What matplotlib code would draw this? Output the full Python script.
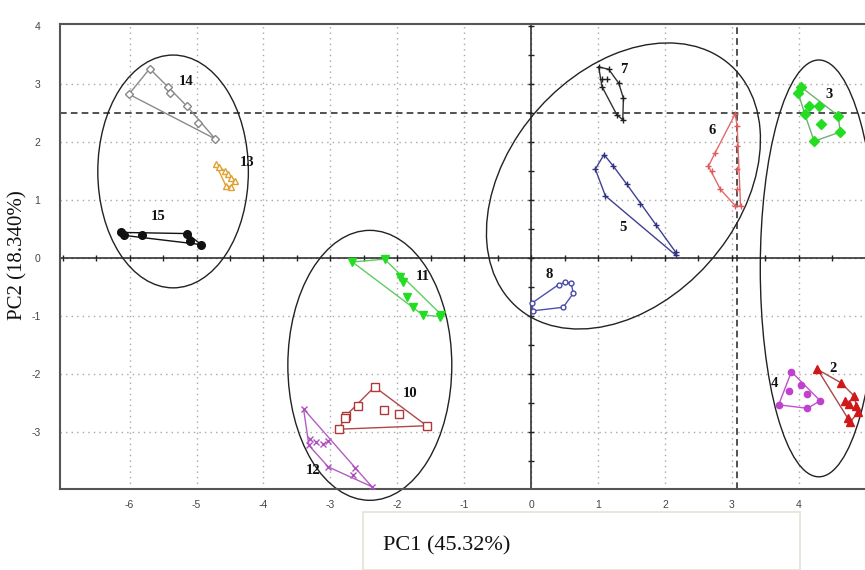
import numpy as np
import matplotlib
matplotlib.use('Agg')
import matplotlib.pyplot as plt
from matplotlib.patches import Ellipse, Rectangle

### DATA: PCA SCORES ###

g2_x = [4.28, 4.63, 4.83, 4.69, 4.75, 4.85, 4.88, 4.73, 4.77]
g2_y = [-1.92, -2.15, -2.38, -2.46, -2.52, -2.55, -2.66, -2.75, -2.83]
g3_x = [4.04, 3.99, 4.15, 4.30, 4.09, 4.59, 4.33, 4.62, 4.23]
g3_y = [2.94, 2.85, 2.61, 2.61, 2.48, 2.45, 2.31, 2.17, 2.01]
g4_x = [3.89, 4.04, 3.85, 4.12, 4.32, 3.70, 4.13]
g4_y = [-1.96, -2.18, -2.30, -2.34, -2.46, -2.53, -2.59]
g5_x = [1.09, 0.96, 1.23, 1.11, 1.43, 1.63, 1.86, 2.16, 2.16]
g5_y = [1.78, 1.53, 1.58, 1.07, 1.27, 0.93, 0.56, 0.10, 0.05]
g6_x = [3.05, 2.75, 2.65, 2.70, 2.83, 3.05, 3.13, 3.08, 3.08, 3.08, 3.08]
g6_y = [2.48, 1.81, 1.58, 1.50, 1.18, 0.90, 0.89, 1.18, 1.53, 1.93, 2.27]
g7_x = [1.01, 1.16, 1.06, 1.14, 1.06, 1.31, 1.38, 1.28, 1.37]
g7_y = [3.29, 3.25, 3.09, 3.09, 2.95, 3.01, 2.75, 2.47, 2.38]
g8_x = [0.01, 0.03, 0.41, 0.51, 0.60, 0.63, 0.48]
g8_y = [-0.78, -0.91, -0.46, -0.42, -0.44, -0.61, -0.85]
g10_x = [-2.34, -2.59, -2.77, -2.78, -2.87, -2.20, -1.97, -1.56]
g10_y = [-2.22, -2.55, -2.72, -2.75, -2.95, -2.62, -2.69, -2.89]
g11_x = [-2.67, -2.19, -1.96, -1.91, -1.86, -1.77, -1.62, -1.36, -1.34]
g11_y = [-0.07, -0.02, -0.32, -0.41, -0.67, -0.85, -0.98, -1.01, -0.98]
g12_x = [-3.40, -3.31, -3.32, -3.21, -3.11, -3.03, -3.03, -2.63, -2.66, -2.38]
g12_y = [-2.60, -3.12, -3.23, -3.17, -3.20, -3.15, -3.60, -3.62, -3.74, -3.94]
g13_x = [-4.71, -4.66, -4.58, -4.53, -4.48, -4.43, -4.56, -4.48]
g13_y = [1.61, 1.56, 1.50, 1.44, 1.38, 1.33, 1.24, 1.23]
g14_x = [-5.70, -6.01, -5.43, -5.39, -5.14, -4.98, -4.72]
g14_y = [3.26, 2.82, 2.95, 2.84, 2.61, 2.32, 2.05]
g15_x = [-6.13, -6.09, -5.81, -5.14, -5.10, -4.93]
g15_y = [0.44, 0.39, 0.40, 0.42, 0.29, 0.23]

# group number labels
lab_text = ['2', '3', '4', '5', '6', '7', '8', '10', '11', '12', '13', '14', '15']
lab_x = [4.52, 4.46, 3.64, 1.38, 2.71, 1.39, 0.27, -1.81, -1.62, -3.26, -4.25, -5.15, -5.57]
lab_y = [-1.91, 2.82, -2.17, 0.53, 2.19, 3.25, -0.29, -2.34, -0.32, -3.66, 1.64, 3.04, 0.72]

# confidence ellipses around the clusters
ell_cx = [-5.35, -2.41, 1.38, 4.30]
ell_cy = [1.49, -1.85, 1.24, -0.18]
ell_w = [2.25, 2.45, 5.30, 1.75]
ell_h = [4.01, 4.65, 3.60, 7.18]
ell_ang = [0, 0, 59.9, 0]

x_ticks = [-6, -5, -4, -3, -2, -1, 0, 1, 2, 3, 4]
y_ticks = [-3, -2, -1, 0, 1, 2, 3, 4]

# convex hull (monotone chain) so each group gets its outline polygon
def hull(xs, ys):
	pts = sorted(set(zip(xs, ys)))
	def cross(o, a, b):
		return (a[0]-o[0])*(b[1]-o[1]) - (a[1]-o[1])*(b[0]-o[0])
	lower, upper = [], []
	for p in pts:
		while len(lower) >= 2 and cross(lower[-2], lower[-1], p) <= 0:
			lower.pop()
		lower.append(p)
	for p in reversed(pts):
		while len(upper) >= 2 and cross(upper[-2], upper[-1], p) <= 0:
			upper.pop()
		upper.append(p)
	poly = lower[:-1] + upper[:-1]
	poly.append(poly[0])
	return [p[0] for p in poly], [p[1] for p in poly]

# (x, y, marker, marker colour, line colour, filled, size)
groups = [
	(g2_x, g2_y, '^', '#d01818', '#a84848', True, 5.5),
	(g3_x, g3_y, 'D', '#22dd22', '#70b070', True, 5.5),
	(g4_x, g4_y, 'o', '#c040d0', '#c050d0', True, 4.5),
	(g5_x, g5_y, '+', '#303080', '#404090', True, 4),
	(g6_x, g6_y, '+', '#e05a5a', '#e06a6a', True, 4),
	(g7_x, g7_y, '+', '#202020', '#303030', True, 4.5),
	(g8_x, g8_y, 'o', '#4848a8', '#5050b0', False, 3.5),
	(g10_x, g10_y, 's', '#b03838', '#b04848', False, 5.5),
	(g11_x, g11_y, 'v', '#22dd22', '#60cc60', True, 5.5),
	(g12_x, g12_y, 'x', '#b050c0', '#b060c0', True, 4.5),
	(g13_x, g13_y, '^', '#e0a030', '#e0a030', False, 4.5),
	(g14_x, g14_y, 'D', '#888888', '#8a8a8a', False, 4.5),
	(g15_x, g15_y, 'o', '#111111', '#111111', True, 5.5),
]

fig = plt.figure(figsize=(8.65, 5.7), dpi=100)
ax = fig.add_axes([60/865, 81/570, 805/865, 465/570])
ax.set_xlim(-7.04, 4.99)
ax.set_ylim(-3.98, 4.03)

# dotted grid
for xv in x_ticks:
	ax.axvline(xv, color='#a8a8a8', lw=1.0, ls=(0, (1, 3)), zorder=0)
for yv in y_ticks[:-1]:
	ax.axhline(yv, color='#a8a8a8', lw=1.0, ls=(0, (1, 3)), zorder=0)

# dashed reference lines
ax.axhline(2.5, color='#333333', lw=1.2, ls=(0, (4, 2.5)), zorder=1)
ax.axvline(3.08, color='#333333', lw=1.2, ls=(0, (4, 2.5)), zorder=1)

# solid origin axes with small ticks
ax.axhline(0, color='#222222', lw=1.1, zorder=1)
ax.axvline(0, color='#222222', lw=1.1, zorder=1)
ticks_h = np.arange(-7, 5.01, 0.5)
ticks_v = np.arange(-3.5, 4.01, 0.5)
ax.plot(ticks_h, np.zeros_like(ticks_h), ls='none', marker='|', ms=4, mew=1.0, color='#222222', zorder=1)
ax.plot(np.zeros_like(ticks_v), ticks_v, ls='none', marker='_', ms=4, mew=1.0, color='#222222', zorder=1)

# ellipses
for cx, cy, w, h, a in zip(ell_cx, ell_cy, ell_w, ell_h, ell_ang):
	e = Ellipse((cx, cy), w, h, angle=a, fill=False, edgecolor='#222222', lw=1.0, clip_on=False, zorder=2)
	ax.add_patch(e)

# groups: hull outline + points
for xs, ys, m, mc, lc, filled, ms in groups:
	hx, hy = hull(xs, ys)
	ax.plot(hx, hy, color=lc, lw=1.0, zorder=3)
	if m in ('+', 'x'):
		ax.plot(xs, ys, ls='none', marker=m, ms=ms, mew=1.0, color=mc, zorder=4)
	elif filled:
		ax.plot(xs, ys, ls='none', marker=m, ms=ms, color=mc, mec=mc, zorder=4)
	else:
		ax.plot(xs, ys, ls='none', marker=m, ms=ms, mfc='white', mec=mc, mew=1.0, zorder=4)

for t, lx, ly in zip(lab_text, lab_x, lab_y):
	ax.text(lx, ly, t, ha='center', va='center', fontsize=10.5, fontweight='bold',
		family='Liberation Serif', color='#111111', zorder=5)

# frame and tick labels
ax.set_xticks(x_ticks)
ax.set_yticks(y_ticks)
ax.set_xticklabels([str(v) for v in x_ticks])
ax.set_yticklabels([str(v) for v in y_ticks])
ax.tick_params(length=0, labelsize=7.5, labelcolor='#444444')
ax.tick_params(axis='x', pad=8)
ax.tick_params(axis='y', pad=14)
for lab in ax.get_xticklabels() + ax.get_yticklabels():
	lab.set_family('Liberation Sans')
for s in ['left', 'top', 'bottom']:
	ax.spines[s].set_color('#555555')
	ax.spines[s].set_linewidth(1.5)
ax.spines['right'].set_visible(False)

# axis titles
fig.text(18/865, 1 - 255/570, 'PC2 (18.340%)', rotation=90, ha='center', va='center',
	fontsize=15, family='Liberation Serif', color='#111111')
fig.patches.append(Rectangle((363/865, 0), 437/865, 58/570, transform=fig.transFigure,
	fill=False, edgecolor='#e6e2d4', lw=1.2))
fig.text(383/865, 1 - 546/570, 'PC1 (45.32%)', ha='left', va='center',
	fontsize=16, family='Liberation Serif', color='#111111')

fig.savefig('out.png', dpi=100)
